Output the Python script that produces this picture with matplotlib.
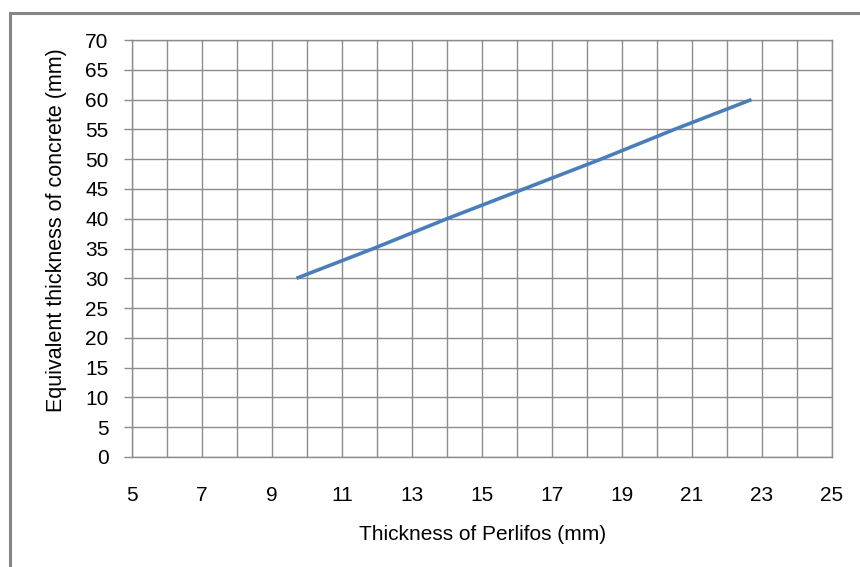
import matplotlib
matplotlib.use("Agg")
import matplotlib.pyplot as plt
from matplotlib.patches import Rectangle
from matplotlib.ticker import MultipleLocator

plt.rcParams['font.family'] = ['Liberation Sans', 'DejaVu Sans']

# Data
perlifos_mm = [9.7, 11.9, 14.0, 16.2, 18.4, 20.5, 22.7]
concrete_mm = [30, 35, 40, 45, 50, 55, 60]
x_ticks = [5, 7, 9, 11, 13, 15, 17, 19, 21, 23, 25]
y_ticks = [0, 5, 10, 15, 20, 25, 30, 35, 40, 45, 50, 55, 60, 65, 70]

W, H = 860, 567
fig = plt.figure(figsize=(W / 100, H / 100), dpi=100)

# outer chart border
fig.patches.append(Rectangle((10 / W, 0 - 0.05), 1.2, 1 - 13 / H + 0.05,
                             transform=fig.transFigure, fill=False,
                             edgecolor='#868686', linewidth=2.2, zorder=0))

ax = fig.add_axes([132 / W, 1 - 457 / H, 700 / W, 417 / H])
grid_c = '#8c8c8c'
ax.plot(perlifos_mm, concrete_mm, color='#4a7ebb', linewidth=2.6,
        solid_capstyle='butt', zorder=3)

ax.set_xlim(5, 25)
ax.set_ylim(0, 70)
ax.set_xticks(x_ticks)
ax.set_yticks(y_ticks)
ax.xaxis.set_minor_locator(MultipleLocator(1))
ax.grid(True, which='both', axis='x', color=grid_c, linewidth=1)
ax.grid(True, which='major', axis='y', color=grid_c, linewidth=1)
ax.set_axisbelow(True)

for s in ax.spines.values():
    s.set_color(grid_c)
    s.set_linewidth(1)

ax.tick_params(axis='x', which='both', length=0, pad=21, labelsize=15,
               colors='black')
ax.tick_params(axis='y', which='major', length=6, width=1, color=grid_c,
               direction='out', pad=11, labelsize=15, labelcolor='black')

fig.text(483 / W, 1 - 535 / H, 'Thickness of Perlifos (mm)', fontsize=15,
         ha='center', va='center')
fig.text(57 / W, 1 - 230 / H, 'Equivalent thickness of concrete (mm)',
         fontsize=15.5, ha='center', va='center', rotation=90)

fig.savefig('out.png', dpi=100)
